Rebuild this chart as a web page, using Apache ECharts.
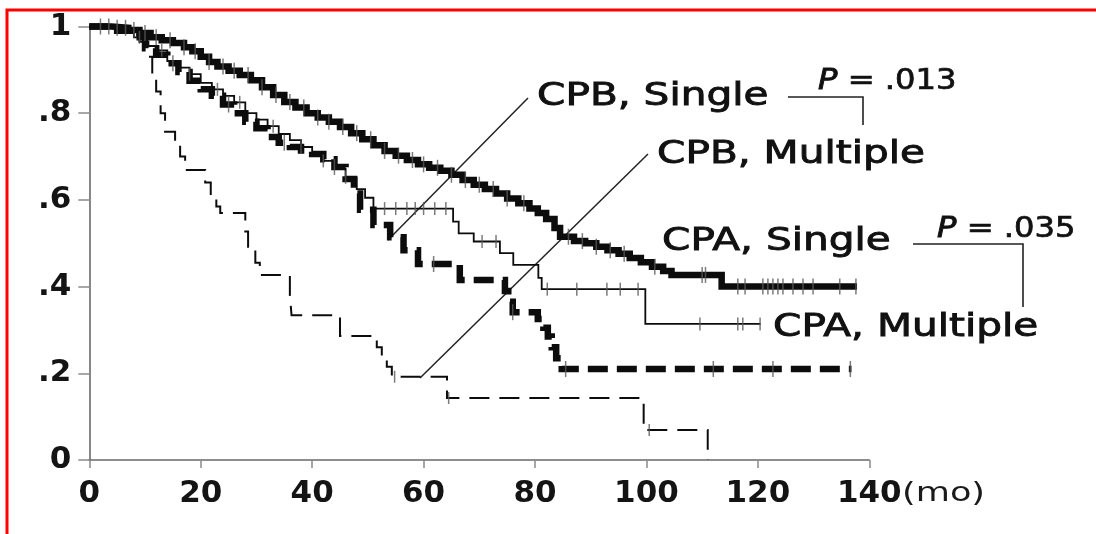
<!DOCTYPE html>
<html>
<head>
<meta charset="utf-8">
<script src="https://cdn.jsdelivr.net/npm/echarts@6/dist/echarts.min.js"></script>
<style>
  html, body { margin: 0; padding: 0; background: #ffffff; }
  #chart { width: 1096px; height: 534px; }
</style>
</head>
<body>
<div id="chart"></div>
<script>
// Kaplan-Meier survival estimates: [month, survival after the event]
const cpaSingle = [[0,1],[4,0.997],[7,0.992],[9,0.985],[11,0.975],[13,0.968],[15,0.962],[17,0.952],[18.5,0.943],[20,0.93],[21.5,0.918],[23,0.908],[25,0.898],[27,0.888],[29,0.876],[31,0.86],[33,0.842],[35,0.826],[37,0.813],[39,0.8],[41,0.79],[43,0.78],[45,0.768],[47,0.754],[49,0.74],[51,0.726],[53,0.713],[55,0.702],[57,0.692],[59,0.682],[61,0.674],[63,0.667],[65,0.658],[67,0.646],[69,0.635],[71,0.625],[73,0.615],[75,0.603],[77,0.592],[79,0.58],[80.5,0.57],[82,0.556],[83.5,0.535],[84.5,0.515],[87,0.505],[89,0.5],[91,0.492],[93,0.484],[95,0.476],[97,0.466],[99,0.456],[101,0.446],[103,0.436],[104.5,0.427],[113.5,0.4],[137.8,0.4]];
const cpaMultiple = [[0,1],[5,0.99],[8,0.975],[10,0.955],[12,0.945],[14,0.92],[16,0.905],[18,0.89],[20,0.87],[22,0.855],[24,0.84],[26,0.825],[28,0.8],[30,0.785],[32,0.77],[34,0.752],[36,0.738],[38,0.722],[40,0.708],[42,0.69],[44,0.672],[46,0.652],[48,0.625],[49.5,0.605],[51,0.58],[65.3,0.55],[66.3,0.523],[69,0.504],[73.7,0.477],[76.1,0.45],[80.6,0.42],[81.2,0.394],[99.8,0.314],[120.5,0.314]];
const cpbSingle = [[0,1],[5,0.99],[8,0.975],[10,0.95],[12,0.935],[14,0.915],[16,0.895],[18,0.875],[20,0.855],[22,0.84],[24,0.82],[26,0.8],[28,0.78],[30,0.765],[32,0.745],[34,0.732],[36,0.722],[38,0.714],[40,0.706],[42,0.694],[44,0.676],[46,0.648],[47.5,0.615],[48.6,0.577],[51,0.542],[54,0.514],[56.4,0.484],[59,0.452],[66.5,0.415],[74.6,0.39],[75.2,0.365],[76,0.341],[80.5,0.325],[81.5,0.305],[82.3,0.285],[83,0.26],[83.8,0.235],[84.8,0.21],[136.8,0.21]];
const cpbMultiple = [[0,1],[6,0.99],[9,0.965],[10.6,0.93],[11.3,0.89],[12,0.85],[12.8,0.8],[13.6,0.757],[15.4,0.73],[16.3,0.7],[17.2,0.669],[20.8,0.64],[21.8,0.61],[22.8,0.585],[23.5,0.57],[28,0.527],[28.5,0.484],[29.8,0.455],[30.6,0.427],[36,0.38],[36.3,0.334],[45,0.286],[51.6,0.26],[52.5,0.238],[53.4,0.215],[54.3,0.192],[64.2,0.143],[99.5,0.069],[111,0]];

// Censored observations (months)
const cpaSingleCensored = [2,3.5,5,6.5,8,10,12,14.5,17,19,21.5,24,26,28.5,31,33.5,36,38.5,41,43,45.5,48,50.5,53,55.5,58,60,62.5,65,67.5,70,72.5,75,78,86,88.5,91,93.5,96,101.5,110,110.6,116.4,117.7,120.9,121.8,122.7,123.6,124.5,126.3,128.1,129.9,134.7,137.6];
const cpaMultipleCensored = [9,13,18,23,27,33,38,42,46,53,55,57,58.5,60,62,64,70.5,73,82.2,87.5,92.9,95.3,98.5,109.6,116.4,117.3,120.4];
const cpbSingleCensored = [15,25,35,44,61.8,76,85.5,112,122.7,136.6];
const cpbMultipleCensored = [54.8,64.5,100.5];

// Axis ticks
const xTickValues = [0,20,40,60,80,100,120,140];
const yTickLabels = ['0','.2','.4','.6','.8','1'];

// Group labels and log-rank results
const groupLabels = ['CPB, Single','CPB, Multiple','CPA, Single','CPA, Multiple'];
const pValues = ['.013','.035'];

// survival level of a step curve at month t
function levelAt(curve, t) {
  let s = curve[0][1];
  for (const [m, v] of curve) { if (m <= t) s = v; else break; }
  return s;
}
function censorPoints(curve, times) {
  return times.map(t => [t, levelAt(curve, t)]);
}

const chart = echarts.init(document.getElementById('chart'), null, { renderer: 'canvas' });

const tickFont = { fontFamily: '"DejaVu Sans", sans-serif', fontWeight: 'bold', fontSize: 31, color: '#141414' };
const labelFont = '32px "DejaVu Sans", sans-serif';
const stretch = 1.27;

function stepLine(name, data, width, type, z) {
  return {
    name, type: 'line', step: 'end', data, showSymbol: false, symbol: 'none',
    clip: false, z,
    lineStyle: { color: '#0c0c0c', width, type, cap: 'butt', join: 'miter' },
    emphasis: { disabled: true }
  };
}
function censorSeries(name, points, h, z) {
  return {
    name, type: 'scatter', data: points, symbol: 'rect', symbolSize: [1.5, h],
    clip: false, z,
    itemStyle: { color: '#5a5a5a' },
    emphasis: { disabled: true }
  };
}
function label(text, x, y) {
  return { type: 'text', x, y, scaleX: stretch, style: { text, font: labelFont, fill: '#111', stroke: '#111', lineWidth: 0.9, verticalAlign: 'middle', textVerticalAlign: 'middle' } };
}
function pLabel(value, x, y) {
  return { type: 'text', x, y, scaleX: 1.15, style: {
    text: '{i|P} = ' + value, font: '28px "DejaVu Sans", sans-serif', fill: '#111', stroke: '#111', lineWidth: 0.7,
    verticalAlign: 'middle', textVerticalAlign: 'middle',
    rich: { i: { font: 'italic 28px "DejaVu Sans", sans-serif', fill: '#111', stroke: '#111', lineWidth: 0.9 } } } };
}

const ink = '#222';

chart.setOption({
  backgroundColor: '#ffffff',
  animation: false,
  grid: { left: 89.3, right: 226.7, top: 26.5, bottom: 74, containLabel: false },
  xAxis: {
    type: 'value', min: 0, max: 140, interval: 20,
    axisLine: { show: true, lineStyle: { color: '#6a6a6a', width: 1.6 } },
    axisTick: { show: true, length: 8, lineStyle: { color: '#8a8a8a', width: 1.5 } },
    splitLine: { show: false },
    axisLabel: Object.assign({ margin: 18, formatter: v => xTickValues.includes(v) ? String(v) : '' }, tickFont)
  },
  yAxis: {
    type: 'value', min: 0, max: 1, interval: 0.2,
    axisLine: { show: true, lineStyle: { color: '#6a6a6a', width: 1.6 } },
    axisTick: { show: true, length: 11, lineStyle: { color: '#8a8a8a', width: 1.5 } },
    splitLine: { show: false },
    axisLabel: Object.assign({ margin: 18, formatter: v => yTickLabels[Math.round(v / 0.2)] }, tickFont)
  },
  series: [
    stepLine(groupLabels[1], cpbMultiple, 2, [20, 10], 2),
    stepLine(groupLabels[0], cpbSingle, 6.5, [20, 9], 3),
    stepLine(groupLabels[3], cpaMultiple, 1.8, 'solid', 4),
    stepLine(groupLabels[2], cpaSingle, 6.5, 'solid', 5),
    censorSeries(groupLabels[1] + ' censored', censorPoints(cpbMultiple, cpbMultipleCensored), 12, 6),
    censorSeries(groupLabels[0] + ' censored', censorPoints(cpbSingle, cpbSingleCensored), 16, 6),
    censorSeries(groupLabels[3] + ' censored', censorPoints(cpaMultiple, cpaMultipleCensored), 13, 6),
    censorSeries(groupLabels[2] + ' censored', censorPoints(cpaSingle, cpaSingleCensored), 16, 6)
  ],
  graphic: [
    // frame
    { type: 'rect', shape: { x: 7, y: 10, width: 1300, height: 800 }, style: { fill: 'none', stroke: '#ff0000', lineWidth: 3 }, silent: true },
    // unit
    { type: 'text', x: 902, y: 494, scaleX: 1.3, style: { text: '(mo)', font: '27px "DejaVu Sans", sans-serif', fill: '#1a1a1a', verticalAlign: 'middle', textVerticalAlign: 'middle' } },
    // group labels
    label(groupLabels[0], 537, 97),
    label(groupLabels[1], 657, 155),
    label(groupLabels[2], 662, 242),
    label(groupLabels[3], 773, 328),
    // p-values
    pLabel(pValues[0], 818, 82),
    pLabel(pValues[1], 937, 230),
    // brackets
    { type: 'polyline', shape: { points: [[788, 97], [863, 97], [863, 125]] }, style: { fill: 'none', stroke: ink, lineWidth: 1.6 } },
    { type: 'polyline', shape: { points: [[913, 244], [1023, 244], [1023, 307]] }, style: { fill: 'none', stroke: ink, lineWidth: 1.6 } },
    // leader lines
    { type: 'line', shape: { x1: 528, y1: 98, x2: 388, y2: 240 }, style: { stroke: ink, lineWidth: 1.5 } },
    { type: 'line', shape: { x1: 648, y1: 154, x2: 420, y2: 378 }, style: { stroke: ink, lineWidth: 1.5 } }
  ]
});
</script>
</body>
</html>
